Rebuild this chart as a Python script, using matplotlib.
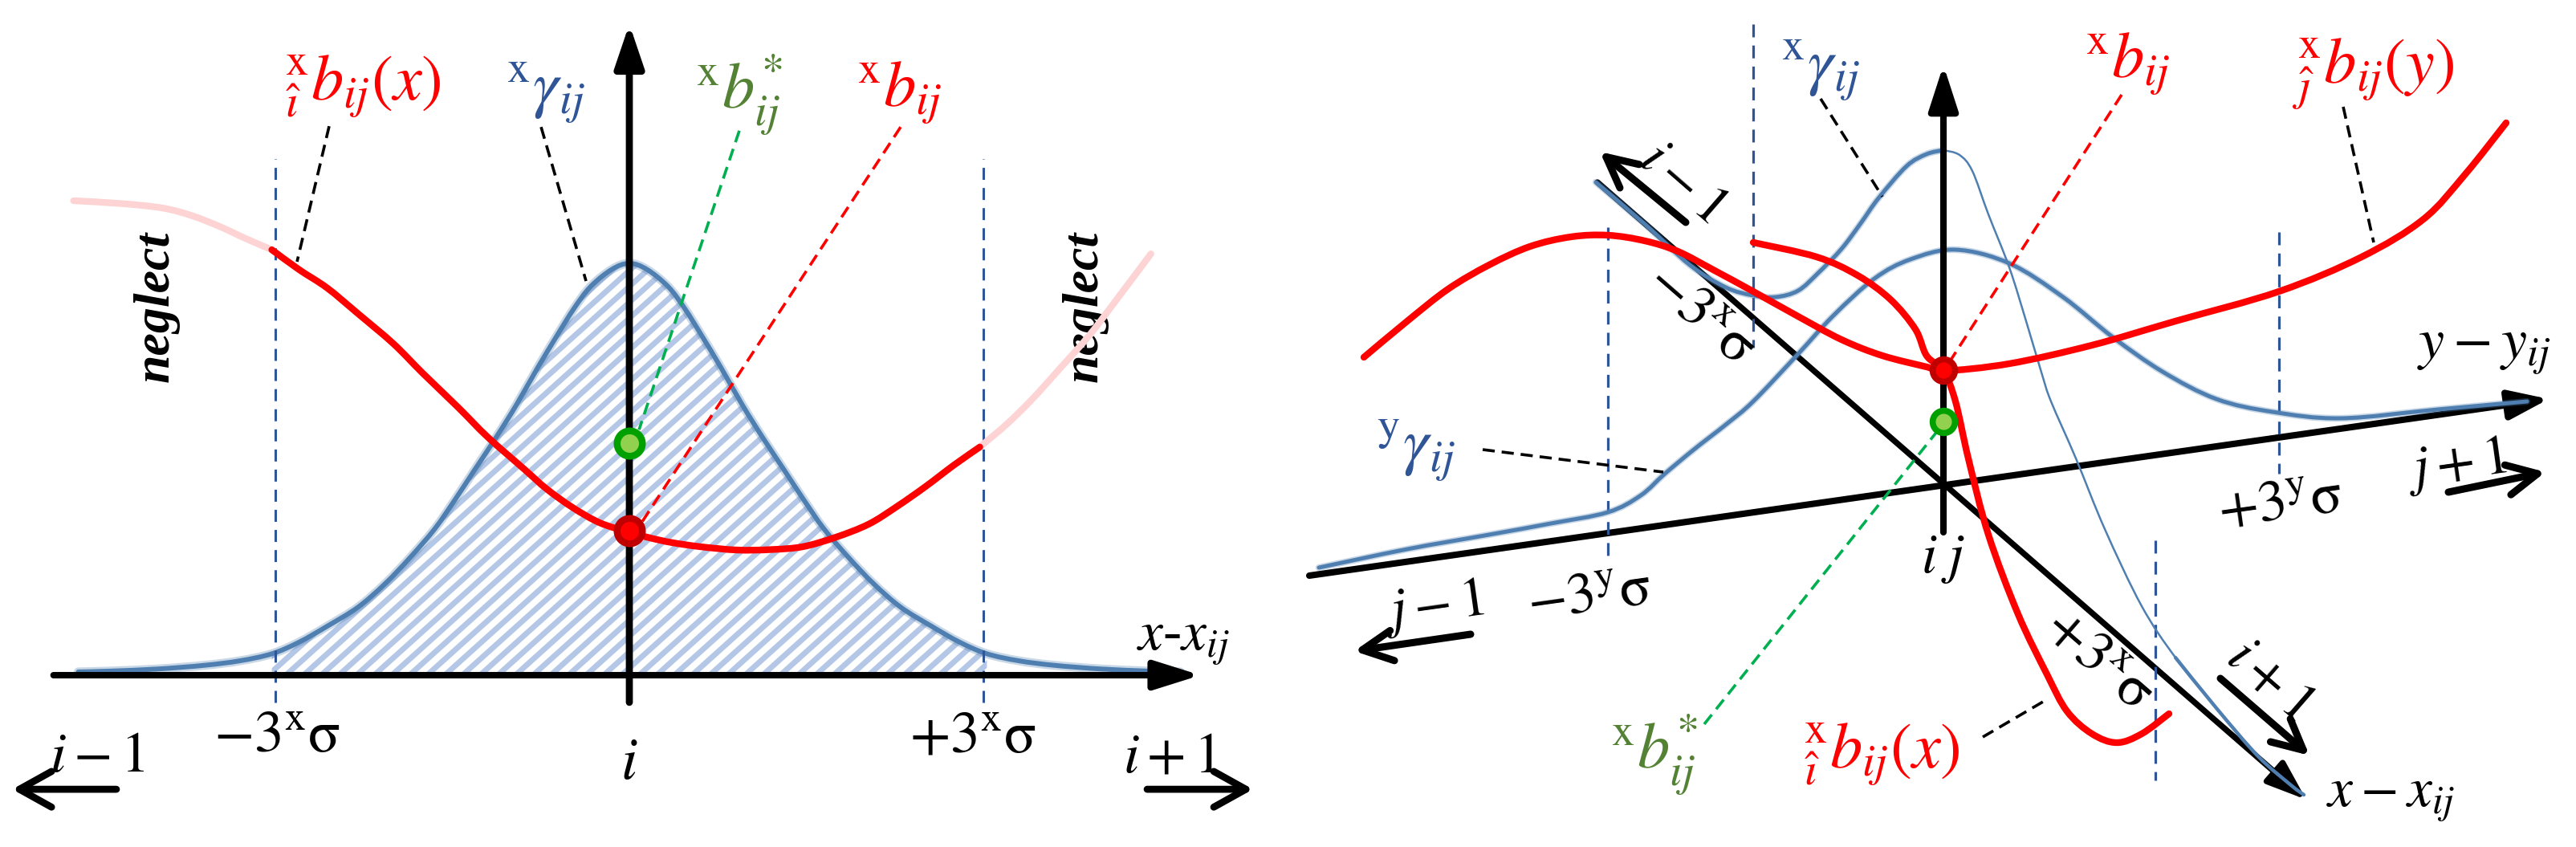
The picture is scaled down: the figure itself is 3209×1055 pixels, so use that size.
import numpy as np
import matplotlib
matplotlib.use("Agg")
import matplotlib.pyplot as plt
from matplotlib.collections import LineCollection
from matplotlib.patches import PathPatch
from matplotlib.path import Path

plt.rcParams['font.family'] = ['Liberation Serif', 'DejaVu Serif']
plt.rcParams['mathtext.fontset'] = 'stix'

RED = '#ff0000'
PINK = '#fdd3d3'
BLUE = '#4f7fb0'
LBLUE = '#b4c7e7'
DBLUE = '#2f5597'
GREEN_T = '#548235'
GREEN_L = '#00b050'

# ---------------- left panel data (x in sigma units, y relative to peak) ----------------
gauss_x = [0, 0.15, 0.33, 0.47, 0.61, 0.78, 0.96, 1.13, 1.31, 1.48, 1.65, 1.86, 2.07,
           2.3, 2.56, 2.8, 3.03, 3.3, 3.6, 4.0, 4.4, 4.67]
gauss_y = [1.0, 0.985, 0.943, 0.89, 0.826, 0.745, 0.655, 0.577, 0.499, 0.425, 0.355,
           0.285, 0.222, 0.165, 0.119, 0.08, 0.052, 0.035, 0.024, 0.015, 0.01, 0.008]

bx_x = [-3.03, -2.8, -2.56, -2.3, -2.0, -1.75, -1.45, -1.2, -0.89, -0.7, -0.48, -0.25,
        0, 0.18, 0.36, 0.6, 0.91, 1.2, 1.47, 1.75, 2.03, 2.27, 2.51, 2.75, 2.97]
bx_y = [1.033, 0.985, 0.94, 0.878, 0.805, 0.733, 0.65, 0.578, 0.50, 0.452, 0.407, 0.37,
        0.347, 0.333, 0.322, 0.312, 0.304, 0.305, 0.312, 0.335, 0.367, 0.41, 0.458, 0.51, 0.554]
neg_left_x = [-4.71, -4.3, -3.95, -3.7, -3.46, -3.25, -3.03]
neg_left_y = [1.152, 1.145, 1.134, 1.115, 1.088, 1.06, 1.033]
neg_right_x = [2.97, 3.2, 3.41, 3.65, 3.90, 4.15, 4.42]
neg_right_y = [0.554, 0.61, 0.669, 0.745, 0.826, 0.92, 1.023]

sigma_lines = [-3, 3]
red_dot = (0, 0.351)
green_dot = (0, 0.563)

left_labels = [r'${}^{\mathrm{x}}_{\hat{\imath}}b_{ij}(x)$', r'${}^{\mathrm{x}}\gamma_{ij}$',
               r'${}^{\mathrm{x}}b^{*}_{ij}$', r'${}^{\mathrm{x}}b_{ij}$']
left_label_xy = [(-2.26, 1.43), (-0.71, 1.415), (0.93, 1.41), (2.29, 1.415)]
left_label_col = [RED, DBLUE, GREEN_T, RED]
left_leaders = [((-2.544, 1.333), (-2.816, 1.004), 'black'),
                ((-0.748, 1.331), (-0.367, 0.957), 'black'),
                ((0.932, 1.322), (0.082, 0.596), GREEN_L),
                ((2.299, 1.331), (0.082, 0.361), RED)]
left_ticks = [r'$-3^{\mathrm{x}}\mathrm{\sigma}$', r'$i$', r'$+3^{\mathrm{x}}\mathrm{\sigma}$']
left_tick_xy = [(-2.99, -0.15), (0, -0.216), (2.91, -0.152)]

# ---------------- right panel data (pixels relative to origin ij, y up) ----------------
yg_x = [-778, -668, -566, -489, -418, -377, -347, -311, -270, -237, -183, -137, -86, -41,
        15, 82, 149, 211, 273, 340, 410, 495, 616, 727]
yg_y = [-104, -81, -63, -49, -35, -14, 13, 43, 75, 103, 160, 210, 256, 280,
        292, 275, 233, 183, 140, 106, 90, 82, 93, 103]
xg_thick_x = [-433, -371, -316, -271, -237, -209, -181, -156, -127, -103, -81, -46, -21, 0]
xg_thick_y = [376, 323, 273, 245, 235, 233, 241, 263, 293, 325, 356, 396, 411, 416]
xg_thin_x = [0, 20, 36, 56, 82, 103, 123, 134, 165, 201, 247, 289, 340]
xg_thin_y = [416, 410, 390, 336, 270, 203, 136, 103, 32, -56, -152, -216, -279]
xg_tail_x = [289, 340, 392, 433, 449]
xg_tail_y = [-216, -279, -339, -375, -387]

by_x = [-722, -668, -617, -566, -515, -464, -418, -372, -331, -285, -237, -183, -127, -76,
        -21, 0, 82, 185, 289, 418, 521, 598, 650, 701]
by_y = [158, 203, 243, 273, 296, 308, 310, 303, 290, 266, 240, 210, 180, 160,
        146, 141, 150, 173, 203, 240, 283, 330, 386, 450]
bxr_x = [-237, -158, -107, -66, -35, -21, 0, 15, 31, 56, 93, 129, 154, 185, 216, 247, 281]
bxr_y = [301, 283, 260, 230, 193, 160, 141, 103, 32, -63, -162, -237, -283, -311, -322, -311, -286]

r_red_dot = (0, 142)
r_green_dot = (0, 78)
r_vlines = [(-237, 573, 170), (-418, 320, -92), (418, 314, 13), (264, -70, -369)]

right_labels = [r'${}^{\mathrm{x}}\gamma_{ij}$', r'${}^{\mathrm{x}}b_{ij}$',
                r'${}^{\mathrm{x}}_{\hat{\jmath}}b_{ij}(y)$', r'${}^{\mathrm{y}}\gamma_{ij}$',
                r'${}^{\mathrm{x}}b^{*}_{ij}$', r'${}^{\mathrm{x}}_{\hat{\imath}}b_{ij}(x)$']
right_label_xy = [(-153, 515), (229, 523), (536, 511), (-657, 42), (-361, -337), (-77, -337)]
right_label_col = [DBLUE, RED, RED, DBLUE, GREEN_T, RED]
right_leaders = [((-153, 480), (-76, 358), 'black'),
                 ((222, 485), (10, 156), RED),
                 ((498, 470), (536, 301), 'black'),
                 ((-574, 43), (-349, 15), 'black'),
                 ((-298, -299), (-6, 68), GREEN_L),
                 ((49, -315), (131, -267), 'black')]


def smooth(xs, ys):
    # Bezier path through the read points (Catmull-Rom control points)
    p = np.column_stack([xs, ys]).astype(float)
    ext = np.vstack([p[0], p, p[-1]])
    verts = [p[0]]
    codes = [Path.MOVETO]
    for i in range(len(p) - 1):
        p0, p1, p2, p3 = ext[i], ext[i + 1], ext[i + 2], ext[i + 3]
        verts += [p1 + (p2 - p0) / 6, p2 - (p3 - p1) / 6, p2]
        codes += [Path.CURVE4] * 3
    return verts, codes


def curve(ax, xs, ys, color, lw, z, alpha=1.0):
    v, c = smooth(xs, ys)
    ax.add_patch(PathPatch(Path(v, c), fill=False, edgecolor=color, lw=lw, alpha=alpha,
                           zorder=z, capstyle='round'))


fig = plt.figure(figsize=(32.09, 10.55), dpi=100)

# ================= left panel =================
ax1 = fig.add_axes([0, 0, 1, 1])
ax1.set_xlim(-784 / 147, (3209 - 784) / 147)
ax1.set_ylim(-(1055 - 841) / 513, 841 / 513)
ax1.set_axis_off()

gx = np.array(gauss_x)
gy = np.array(gauss_y)
fx = np.concatenate([-gx[::-1], gx[1:]])
fy = np.concatenate([gy[::-1], gy[1:]])

inside = np.abs(fx) <= 3.03
v, c = smooth(fx[inside], fy[inside])
v = v + [(3.03, 0), (-3.03, 0), (0, 0)]
c = c + [Path.LINETO, Path.LINETO, Path.CLOSEPOLY]
clip = PathPatch(Path(v, c), facecolor='none', edgecolor='none')
ax1.add_patch(clip)
slope = 0.9 * 147 / 513
segs = []
for k in np.arange(-8, 4, 22 / 147):
    segs.append([(-3.2, slope * (-3.2 - k)), (3.2, slope * (3.2 - k))])
lc = LineCollection(segs, colors=LBLUE, linewidths=5.0, zorder=1)
ax1.add_collection(lc)
lc.set_clip_path(clip)

curve(ax1, fx, fy, BLUE, 8, 2, alpha=0.3)
curve(ax1, fx, fy, BLUE, 4.3, 2)

for s in sigma_lines:
    ax1.plot([s, s], [-0.066, 1.253], color=DBLUE, lw=2.2, ls=(0, (4.9, 3.3)), zorder=3)

curve(ax1, neg_left_x, neg_left_y, PINK, 6, 4)
curve(ax1, neg_right_x, neg_right_y, PINK, 6, 4)
curve(ax1, bx_x, bx_y, RED, 6, 5)

ax1.annotate('', xy=(4.84, 0), xytext=(-4.88, 0),
             arrowprops=dict(arrowstyle='-|>,head_length=0.7,head_width=0.22', lw=5.8,
                             color='black', shrinkA=0, shrinkB=0, mutation_scale=50), zorder=6)
ax1.annotate('', xy=(0, 1.581), xytext=(0, -0.066),
             arrowprops=dict(arrowstyle='-|>,head_length=0.65,head_width=0.22', lw=6.3,
                             color='black', shrinkA=0, shrinkB=0, mutation_scale=50), zorder=6)

for (p0, p1, col) in left_leaders:
    ax1.plot([p0[0], p1[0]], [p0[1], p1[1]], color=col, lw=2.6, ls=(0, (4.2, 2.4)), zorder=7)

ax1.plot(*red_dot, 'o', ms=22.7, mfc=RED, mec='#c00000', mew=6.1, zorder=8)
ax1.plot(*green_dot, 'o', ms=22.7, mfc='#92d050', mec='#00a000', mew=6.1, zorder=8)

for txt, (x, y), col in zip(left_labels, left_label_xy, left_label_col):
    ax1.text(x, y, txt, color=col, fontsize=58, ha='center', va='center')
for txt, (x, y) in zip(left_ticks, left_tick_xy):
    ax1.text(x, y, txt, color='black', fontsize=53, ha='center', va='center')

ax1.text(-4.01, 0.895, 'neglect', rotation=90, fontsize=46, fontweight='bold',
         fontstyle='italic', ha='center', va='center')
ax1.text(3.86, 0.895, 'neglect', rotation=90, fontsize=46, fontweight='bold',
         fontstyle='italic', ha='center', va='center')
ax1.text(4.69, 0.082, r'$x$-$x_{ij}$', fontsize=50, ha='center', va='center')

ax1.text(-4.51, -0.2, r'$i-1$', fontsize=51, ha='center', va='center')
ax1.text(4.59, -0.2, r'$i+1$', fontsize=51, ha='center', va='center')
chev = dict(arrowstyle='->,head_length=0.72,head_width=0.4', lw=6.3, color='black',
            shrinkA=0, shrinkB=0, mutation_scale=40)
ax1.annotate('', xy=(-5.23, -0.277), xytext=(-4.347, -0.277), arrowprops=chev)
ax1.annotate('', xy=(5.286, -0.277), xytext=(4.388, -0.277), arrowprops=chev)

# ================= right panel =================
ax2 = fig.add_axes([0, 0, 1, 1])
ax2.set_xlim(-2421, 788)
ax2.set_ylim(-452, 603)
ax2.set_axis_off()
ax2.patch.set_alpha(0)

ax_kw = dict(color='black', shrinkA=0, shrinkB=0, mutation_scale=50)
ax2.annotate('', xy=(754, 106), xytext=(-790, -114),
             arrowprops=dict(arrowstyle='-|>,head_length=0.6,head_width=0.22', lw=5.8, **ax_kw))
ax2.annotate('', xy=(452, -393), xytext=(-431, 376),
             arrowprops=dict(arrowstyle='-|>,head_length=0.6,head_width=0.22', lw=5.3, **ax_kw))

for (x, y0, y1) in r_vlines:
    ax2.plot([x, x], [y0, y1], color=DBLUE, lw=2.3, ls=(0, (5.0, 3.2)), zorder=3)

curve(ax2, yg_x, yg_y, BLUE, 6, 4, alpha=0.3)
curve(ax2, yg_x, yg_y, BLUE, 3.6, 4)
curve(ax2, xg_thick_x, xg_thick_y, BLUE, 6, 4, alpha=0.3)
curve(ax2, xg_thick_x, xg_thick_y, BLUE, 3.6, 4)
curve(ax2, xg_thin_x, xg_thin_y, BLUE, 1.8, 4)
curve(ax2, xg_tail_x, xg_tail_y, BLUE, 3.2, 4)

ax2.annotate('', xy=(0, 522), xytext=(0, -60),
             arrowprops=dict(arrowstyle='-|>,head_length=0.68,head_width=0.22', lw=5.8, **ax_kw),
             zorder=5)

curve(ax2, by_x, by_y, RED, 6, 6)
curve(ax2, bxr_x, bxr_y, RED, 6, 6)

for (p0, p1, col) in right_leaders:
    ax2.plot([p0[0], p1[0]], [p0[1], p1[1]], color=col, lw=2.6, ls=(0, (4.2, 2.4)), zorder=7)

ax2.plot(*r_red_dot, 'o', ms=20, mfc=RED, mec='#c00000', mew=5.5, zorder=8)
ax2.plot(*r_green_dot, 'o', ms=20, mfc='#92d050', mec='#00a000', mew=5.5, zorder=8)

for txt, (x, y), col in zip(right_labels, right_label_xy, right_label_col):
    ax2.text(x, y, txt, color=col, fontsize=58, ha='center', va='center')

ax2.text(673, 166, r'$y-y_{ij}$', fontsize=52, ha='center', va='center')
ax2.text(557, -391, r'$x-x_{ij}$', fontsize=50, ha='center', va='center')
ax2.text(-1, -94, r'$i\;j$', fontsize=50, ha='center', va='center')

ax2.text(639, 23, r'$j+1$', fontsize=50, rotation=8, ha='center', va='center')
ax2.text(-635, -154, r'$j-1$', fontsize=50, rotation=8, ha='center', va='center')
ax2.text(-441, -141, r'$-3^{\mathrm{y}}\mathrm{\sigma}$', fontsize=52, rotation=8,
         ha='center', va='center')
ax2.text(420, -25, r'$+3^{\mathrm{y}}\mathrm{\sigma}$', fontsize=52, rotation=8,
         ha='center', va='center')
ax2.text(-326, 375, r'$i-1$', fontsize=50, rotation=-41, ha='center', va='center')
ax2.text(405, -245, r'$i+1$', fontsize=50, rotation=-41, ha='center', va='center')
ax2.text(-303, 211, r'$-3^{\mathrm{x}}\mathrm{\sigma}$', fontsize=52, rotation=-41,
         ha='center', va='center')
ax2.text(193, -219, r'$+3^{\mathrm{x}}\mathrm{\sigma}$', fontsize=52, rotation=-41,
         ha='center', va='center')

chev2 = dict(arrowstyle='->,head_length=0.68,head_width=0.34', lw=6.5, color='black',
             shrinkA=0, shrinkB=0, mutation_scale=40)
ax2.annotate('', xy=(-428, 414), xytext=(-321, 326), arrowprops=chev2)
ax2.annotate('', xy=(456, -338), xytext=(345, -242), arrowprops=chev2)
ax2.annotate('', xy=(750, 15), xytext=(629, -10), arrowprops=chev2)
ax2.annotate('', xy=(-734, -208), xytext=(-589, -187), arrowprops=chev2)

fig.savefig('out.png', dpi=100)
